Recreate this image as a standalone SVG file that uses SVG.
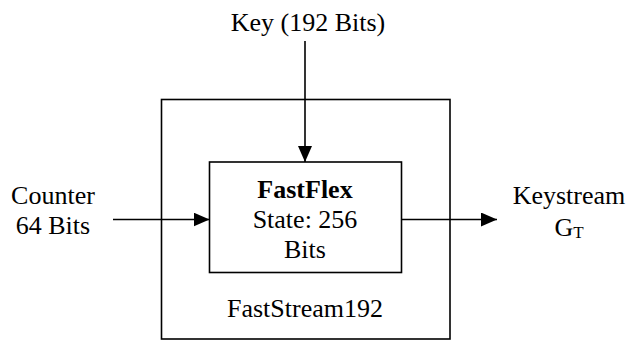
<svg xmlns="http://www.w3.org/2000/svg" width="629" height="342" viewBox="0 0 629 342">
<style>
.box{fill:none;stroke:#000;stroke-width:1.6}
.ln{fill:none;stroke:#000;stroke-width:1.6}
.t{font-family:'Liberation Serif','Times New Roman',Times,'DejaVu Serif',serif;font-size:26px;fill:#000;text-anchor:middle}
.b{font-weight:bold}
.sub{font-size:17px}
</style>
<defs>
<marker id="ah" markerUnits="userSpaceOnUse" markerWidth="16" markerHeight="14" refX="16" refY="7" orient="auto">
<path d="M0,0 L16,7 L0,14 Z" fill="#000"/>
</marker>
</defs>
<rect width="629" height="342" fill="#fff"/>
<g id="faststream">
<rect class="box" x="161.5" y="99.5" width="288.5" height="239.5"/>
<text class="t" x="305" y="317">FastStream192</text>
</g>
<g id="fastflex">
<rect class="box" x="209.5" y="162" width="192" height="110.5"/>
<text class="t b" x="305" y="198">FastFlex</text>
<text class="t" x="305" y="228">State: 256</text>
<text class="t" x="305" y="258">Bits</text>
</g>
<g id="key">
<text class="t" x="308" y="31">Key (192 Bits)</text>
</g>
<g id="counter">
<text class="t" x="53" y="204">Counter</text>
<text class="t" x="53" y="234">64 Bits</text>
</g>
<g id="keystream">
<text class="t" x="569" y="204">Keystream</text>
<text class="t" x="569" y="236">G<tspan class="sub" dy="2">T</tspan></text>
</g>
<g id="connectors">
<line class="ln" x1="305" y1="41" x2="305" y2="162" marker-end="url(#ah)"/>
<line class="ln" x1="113" y1="219.5" x2="209.5" y2="219.5" marker-end="url(#ah)"/>
<line class="ln" x1="401.5" y1="219.5" x2="497" y2="219.5" marker-end="url(#ah)"/>
</g>
</svg>
